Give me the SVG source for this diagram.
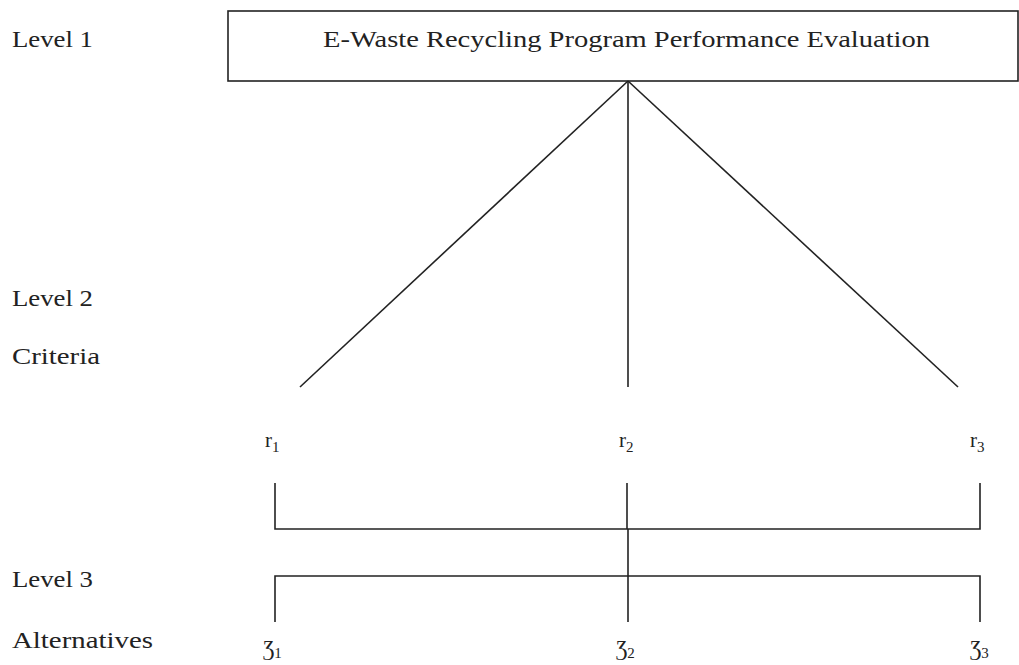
<svg xmlns="http://www.w3.org/2000/svg" width="1019" height="665" viewBox="0 0 1019 665">
<style>
  .t { font-family: "Liberation Serif", "DejaVu Serif", serif; fill: #222; }
  .lbl { font-size: 24px; }
  .sym { font-size: 21px; }
  .sub { font-size: 15px; }
  .ln { stroke: #222; stroke-width: 1.6; fill: none; }
</style>
<rect width="1019" height="665" fill="#ffffff"/>
<g id="level-labels">
  <text class="t lbl" x="12" y="47" textLength="81" lengthAdjust="spacingAndGlyphs">Level 1</text>
  <text class="t lbl" x="12" y="306" textLength="81" lengthAdjust="spacingAndGlyphs">Level 2</text>
  <text class="t lbl" x="12" y="364" textLength="88" lengthAdjust="spacingAndGlyphs">Criteria</text>
  <text class="t lbl" x="12" y="587" textLength="81" lengthAdjust="spacingAndGlyphs">Level 3</text>
  <text class="t lbl" x="12" y="648" textLength="141" lengthAdjust="spacingAndGlyphs">Alternatives</text>
</g>
<g id="goal">
  <rect x="228" y="11" width="790" height="70" fill="#fff" stroke="#222" stroke-width="1.6"/>
  <text class="t lbl" x="323" y="47" textLength="607" lengthAdjust="spacingAndGlyphs">E-Waste Recycling Program Performance Evaluation</text>
</g>
<g id="criteria">
  <g id="c1"><text class="t sym" x="265" y="447">r<tspan class="sub" dy="5">1</tspan></text></g>
  <g id="c2"><text class="t sym" x="619" y="447">r<tspan class="sub" dy="5">2</tspan></text></g>
  <g id="c3"><text class="t sym" x="970" y="447">r<tspan class="sub" dy="5">3</tspan></text></g>
</g>
<g id="alternatives">
  <g id="a1"><text class="t sym" x="263" y="655" font-size="16">Ʒ<tspan class="sub" dy="3">1</tspan></text></g>
  <g id="a2"><text class="t sym" x="616" y="655" font-size="16">Ʒ<tspan class="sub" dy="3">2</tspan></text></g>
  <g id="a3"><text class="t sym" x="970" y="655" font-size="16">Ʒ<tspan class="sub" dy="3">3</tspan></text></g>
</g>
<g id="connectors" class="ln">
  <line x1="628" y1="81" x2="300" y2="387"/>
  <line x1="628" y1="81" x2="628" y2="387"/>
  <line x1="628" y1="81" x2="958" y2="387"/>
  <polyline points="275,483 275,529 980,529 980,483"/>
  <line x1="627" y1="483" x2="627" y2="529"/>
  <line x1="628" y1="529" x2="628" y2="622"/>
  <polyline points="275,622 275,576 980,576 980,622"/>
</g>
</svg>
